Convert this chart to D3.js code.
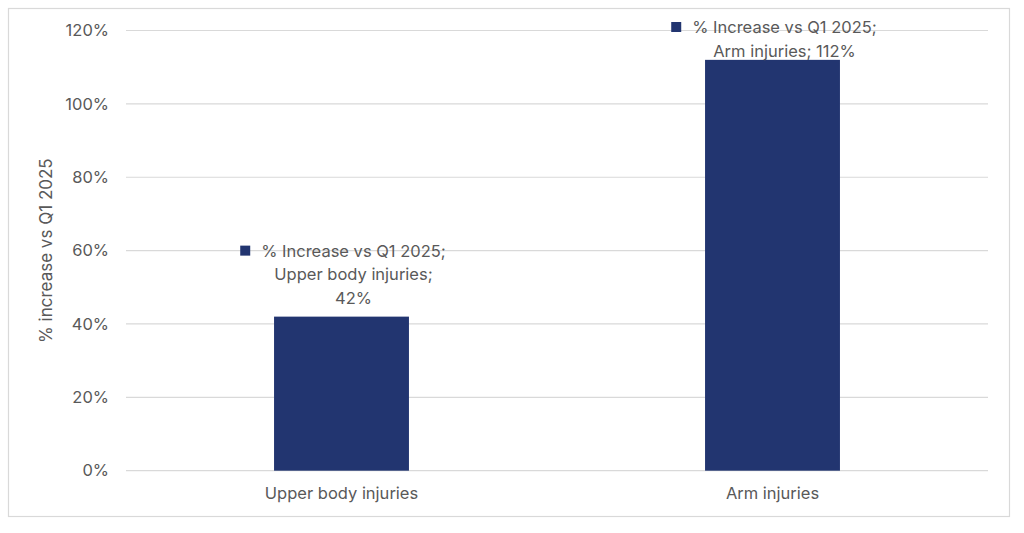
<!DOCTYPE html>
<html>
<head>
<meta charset="utf-8">
<script src="https://cdn.jsdelivr.net/npm/d3@7"></script>
<style>
  html, body { margin: 0; padding: 0; background: #fff; }
  svg { display: block; }
  text { font-family: "Inter", "Liberation Sans", sans-serif; }
</style>
</head>
<body>
<svg id="chart" width="1024" height="533"></svg>
<script>
const categories = ["Upper body injuries", "Arm injuries"];
const values = [42, 112];
const seriesName = "% Increase vs Q1 2025";
const yTicks = [0, 20, 40, 60, 80, 100, 120];
const yTitle = "% increase vs Q1 2025";
const dataLabelLines = [
  ["% Increase vs Q1 2025;", "Upper body injuries;", "42%"],
  ["% Increase vs Q1 2025;", "Arm injuries; 112%"]
];

const svg = d3.select("#chart");
const W = 1024, H = 533;
const margin = { left: 126, right: 36, top: 30.5, bottom: 62.3 };
const barColor = "#223570";
const textColor = "#595959";
const fontStack = '"Inter", "Liberation Sans", sans-serif';

svg.append("rect").attr("x", 8.5).attr("y", 8.5).attr("width", 1001).attr("height", 508)
  .attr("fill", "#fff").attr("stroke", "#d9d9d9").attr("stroke-width", 1.2);

const x = d3.scaleBand().domain(categories).range([margin.left, W - margin.right]).padding(0);
const y = d3.scaleLinear().domain([0, 120]).range([H - margin.bottom, margin.top]);

// gridlines
svg.append("g").selectAll("line").data(yTicks).join("line")
  .attr("x1", margin.left).attr("x2", W - margin.right)
  .attr("y1", d => y(d)).attr("y2", d => y(d))
  .attr("stroke", "#d9d9d9").attr("stroke-width", 1.2);

// y axis labels
const yAxis = d3.axisLeft(y).tickValues(yTicks).tickFormat(d => d + "%").tickSize(0).tickPadding(17);
const gy = svg.append("g").attr("transform", `translate(${margin.left},0)`).call(yAxis);
gy.select(".domain").remove();
gy.selectAll("text").attr("fill", textColor).style("font-size", "16.5px").style("font-family", fontStack);

// x axis labels
const xAxis = d3.axisBottom(x).tickSize(0).tickPadding(17);
const gx = svg.append("g").attr("transform", `translate(0,${y(0)})`).call(xAxis);
gx.select(".domain").remove();
gx.selectAll("text").attr("fill", textColor).style("font-size", "16.5px").style("font-family", fontStack);

// bars
const barFrac = 0.313;
const bw = x.bandwidth() * barFrac;
svg.append("g").selectAll("rect").data(categories).join("rect")
  .attr("x", d => x(d) + (x.bandwidth() - bw) / 2)
  .attr("y", (d, i) => y(values[i]))
  .attr("width", bw)
  .attr("height", (d, i) => y(0) - y(values[i]))
  .attr("fill", barColor);

// data labels
const lineH = 23.5;
const minTopBaseline = 33;
categories.forEach((c, i) => {
  const cx = x(c) + x.bandwidth() / 2 + 12;
  const lines = dataLabelLines[i];
  const top = Math.max(minTopBaseline, y(values[i]) - 13 - lineH * (lines.length - 1));
  const g = svg.append("g");
  lines.forEach((ln, j) => {
    g.append("text")
      .attr("x", cx)
      .attr("y", top + j * lineH)
      .attr("text-anchor", "middle")
      .attr("fill", textColor)
      .style("font-size", "16.5px")
      .text(ln);
  });
  const bb = g.select("text").node().getBBox();
  g.append("rect")
    .attr("x", bb.x - 21).attr("y", top - 11)
    .attr("width", 10).attr("height", 10)
    .attr("fill", barColor);
});

// y title
svg.append("text")
  .attr("transform", `translate(52,${(y(0) + y(120)) / 2}) rotate(-90)`)
  .attr("text-anchor", "middle")
  .attr("fill", textColor)
  .style("font-size", "17px")
  .text(yTitle);
</script>
</body>
</html>
